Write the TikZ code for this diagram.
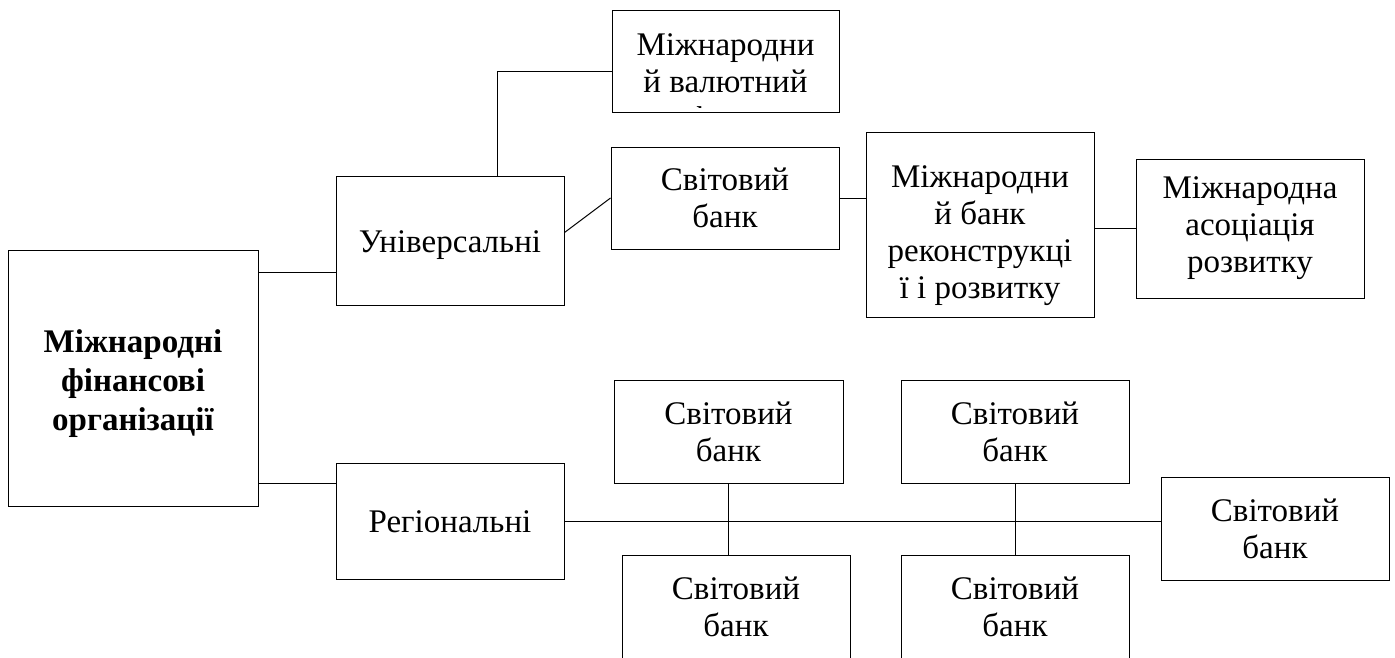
\documentclass[tikz,border=0pt]{standalone}
\usepackage{fontspec}
\setmainfont{Liberation Serif}
\begin{document}
\begin{tikzpicture}[x=1pt,y=-1pt,
  box/.style={draw=black, line width=1pt, minimum width=228pt, inner sep=0pt,
    align=center, font=\fontsize{33}{37}\selectfont},
  conn/.style={draw=black, line width=1pt}]
\useasboundingbox (0,0) rectangle (1395,657);

% main and first level
\node[box, minimum width=250pt, minimum height=256pt,
  font=\fontsize{33}{39}\selectfont\bfseries] (main) at (133,378)
  {\rule{0pt}{35pt}Міжнародні\\фінансові\\організації};
\node[box, minimum height=129pt] (univ) at (450,240.5) {\rule{0pt}{32pt}Універсальні};
\node[box, minimum height=116pt] (reg) at (450,521.5) {Регіональні};

% universal branch
\node[box, minimum width=227pt, minimum height=102pt] (mvf) at (725.5,61) {};
\begin{scope}
  \clip (612,10) rectangle (839,107);
  \node[align=center, inner sep=0pt, anchor=north,
    font=\fontsize{33}{37}\selectfont] (mvftext) at (725.5,33)
    {Міжнародни\\й валютний\\фонд};
\end{scope}
\node[box, minimum height=102pt] (sbt) at (725,198) {Світовий\\банк};
\node[box, minimum height=185pt] (mbrr) at (980,224.5)
  {\rule{0pt}{45pt}Міжнародни\\й банк\\реконструкці\\ї і розвитку};
\node[box, minimum height=139pt] (mar) at (1250,228.5)
  {Міжнародна\\асоціація\\розвитку};

% regional branch
\node[box, minimum width=229pt, minimum height=103pt] (sb1) at (728.5,431.5) {Світовий\\банк};
\node[box, minimum height=103pt] (sb2) at (1015,431.5) {Світовий\\банк};
\node[box, minimum height=103pt] (sb3) at (736,606.5) {Світовий\\банк};
\node[box, minimum height=103pt] (sb4) at (1015,606.5) {Світовий\\банк};
\node[box, minimum height=103pt] (sb5) at (1275,528.5) {Світовий\\банк};

% connectors
\coordinate (c1) at (300,272);
\coordinate (c2) at (300,483);
\coordinate (uj) at (497,71);
\draw[conn] (main.east |- c1) -- (c1 -| univ.west);
\draw[conn] (main.east |- c2) -- (c2 -| reg.west);
\draw[conn] (univ.north -| uj) -- (uj) -- (uj -| mvf.west);
\draw[conn] ([yshift=8pt]univ.east) -- (sbt.west);
\draw[conn] (sbt.east) -- (sbt.east -| mbrr.west);
\draw[conn] (mbrr.east |- mar.west) -- (mar.west);
\draw[conn] (reg.east) -- (reg.east -| sb5.west);
\draw[conn] (sb1.south) -- (sb1.south |- sb3.north);
\draw[conn] (sb2.south) -- (sb4.north);
\end{tikzpicture}
\end{document}
